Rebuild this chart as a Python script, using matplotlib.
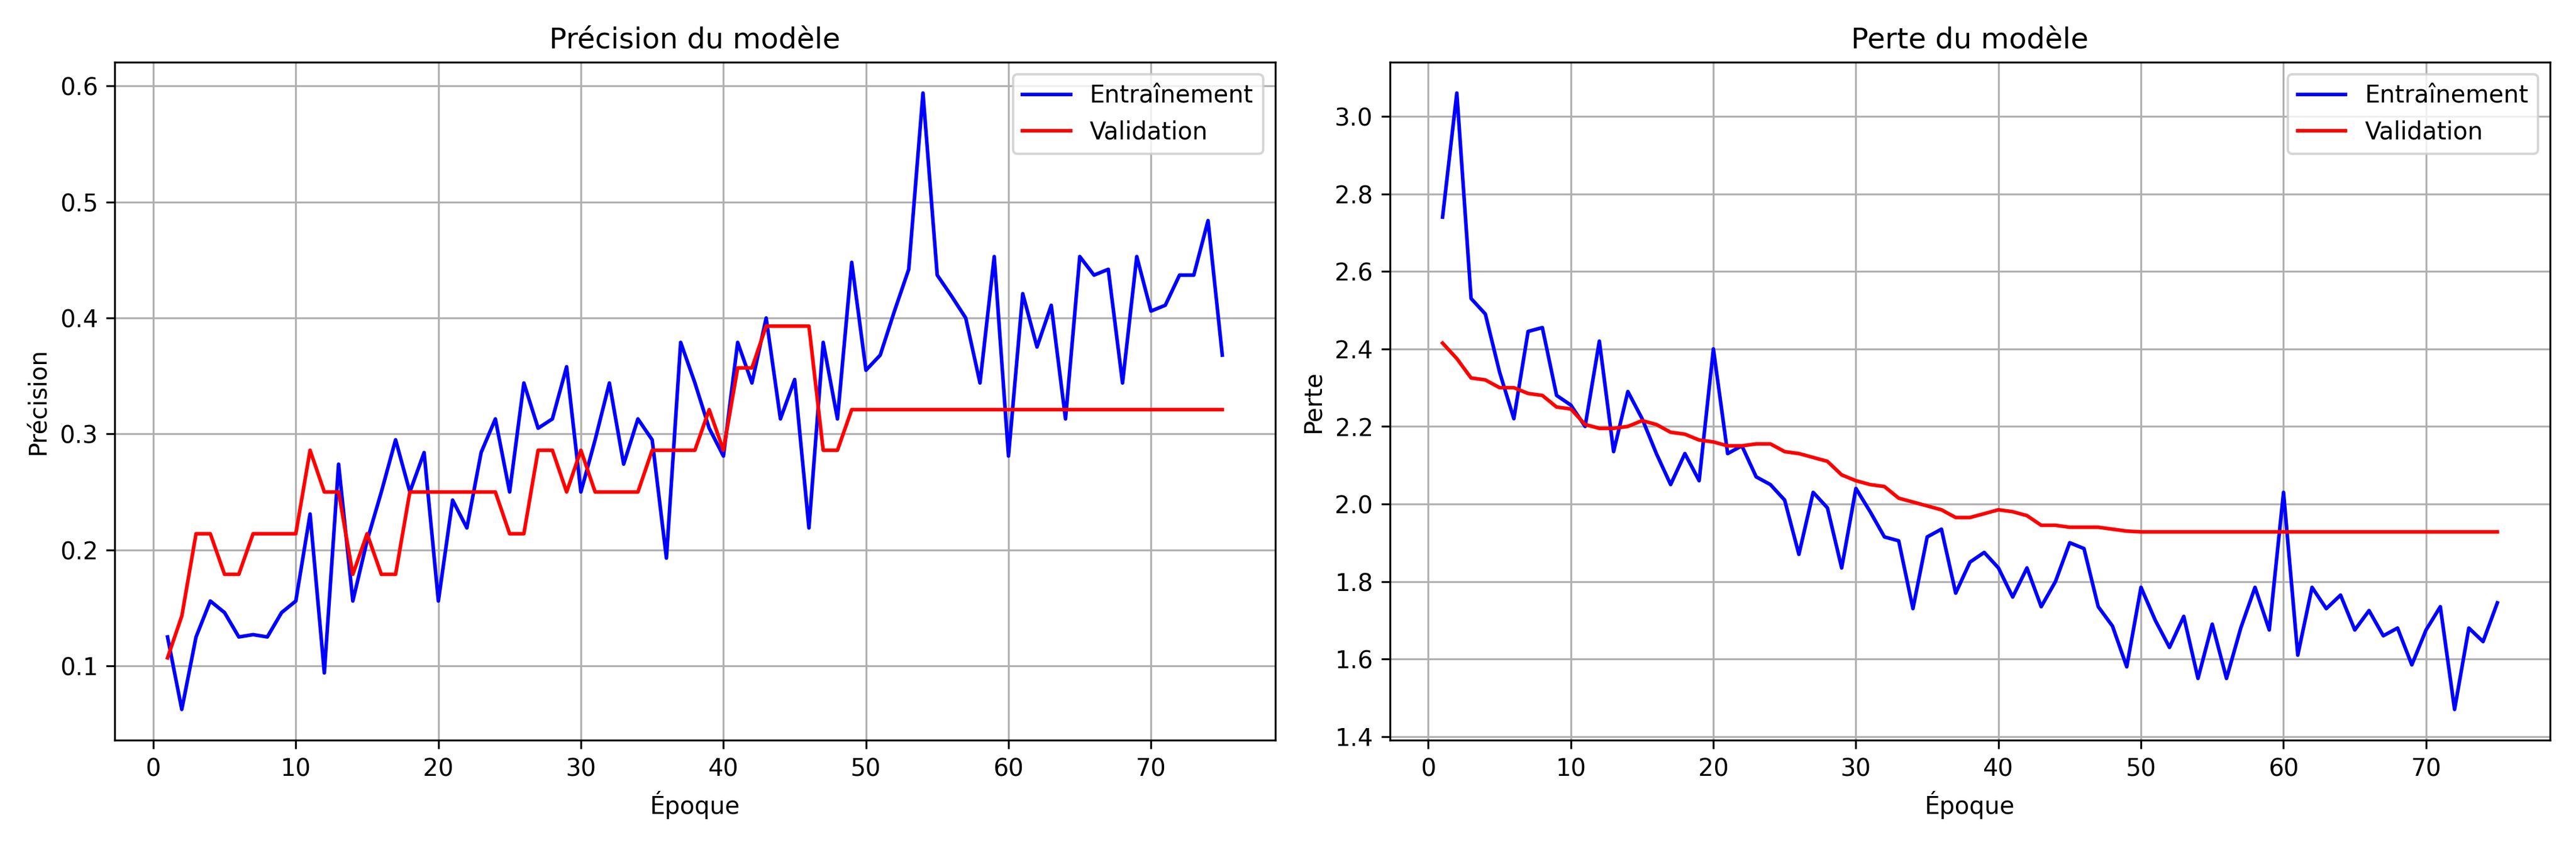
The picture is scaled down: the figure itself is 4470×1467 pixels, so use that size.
import numpy as np
import matplotlib.pyplot as plt

epochs = np.arange(1, 76)

acc_train = [0.125, 0.0625, 0.125, 0.156, 0.146, 0.125, 0.127, 0.125, 0.146, 0.156,
             0.231, 0.094, 0.274, 0.156, 0.208, 0.25, 0.295, 0.25, 0.284, 0.156,
             0.243, 0.219, 0.284, 0.313, 0.25, 0.344, 0.305, 0.313, 0.358, 0.25,
             0.295, 0.344, 0.274, 0.313, 0.295, 0.193, 0.379, 0.344, 0.305, 0.281,
             0.379, 0.344, 0.40, 0.313, 0.347, 0.219, 0.379, 0.313, 0.448, 0.355,
             0.368, 0.406, 0.442, 0.594, 0.437, 0.419, 0.40, 0.344, 0.453, 0.281,
             0.421, 0.375, 0.411, 0.313, 0.453, 0.437, 0.442, 0.344, 0.453, 0.406,
             0.411, 0.437, 0.437, 0.484, 0.368]
acc_val = [0.107, 0.143, 0.214, 0.214, 0.179, 0.179, 0.214, 0.214, 0.214, 0.214,
           0.286, 0.25, 0.25, 0.179, 0.214, 0.179, 0.179, 0.25, 0.25, 0.25,
           0.25, 0.25, 0.25, 0.25, 0.214, 0.214, 0.286, 0.286, 0.25, 0.286,
           0.25, 0.25, 0.25, 0.25, 0.286, 0.286, 0.286, 0.286, 0.321, 0.286,
           0.357, 0.357, 0.393, 0.393, 0.393, 0.393, 0.286, 0.286] + [0.321] * 27

loss_train = [2.74, 3.06, 2.53, 2.49, 2.34, 2.22, 2.445, 2.455, 2.28, 2.255,
              2.20, 2.42, 2.135, 2.29, 2.22, 2.13, 2.05, 2.13, 2.06, 2.40,
              2.13, 2.15, 2.07, 2.05, 2.01, 1.87, 2.03, 1.99, 1.835, 2.04,
              1.98, 1.915, 1.905, 1.73, 1.915, 1.935, 1.77, 1.85, 1.875, 1.835,
              1.76, 1.835, 1.735, 1.80, 1.90, 1.885, 1.735, 1.685, 1.58, 1.785,
              1.70, 1.63, 1.71, 1.55, 1.69, 1.55, 1.68, 1.785, 1.675, 2.03,
              1.61, 1.785, 1.73, 1.765, 1.675, 1.725, 1.66, 1.68, 1.585, 1.675,
              1.735, 1.47, 1.68, 1.645, 1.745]
loss_val = [2.415, 2.375, 2.325, 2.32, 2.30, 2.30, 2.285, 2.28, 2.25, 2.245,
            2.205, 2.195, 2.195, 2.20, 2.215, 2.205, 2.185, 2.18, 2.165, 2.16,
            2.15, 2.15, 2.155, 2.155, 2.135, 2.13, 2.12, 2.11, 2.075, 2.06,
            2.05, 2.045, 2.015, 2.005, 1.995, 1.985, 1.965, 1.965, 1.975, 1.985,
            1.98, 1.97, 1.945, 1.945, 1.94, 1.94, 1.94, 1.935, 1.93] + [1.928] * 26

fig, (ax1, ax2) = plt.subplots(1, 2, figsize=(14.9, 4.89), dpi=300)

ax1.plot(epochs, acc_train, color='blue', label='Entraînement')
ax1.plot(epochs, acc_val, color='red', label='Validation')
ax1.set_title('Précision du modèle')
ax1.set_xlabel('Époque')
ax1.set_ylabel('Précision')
ax1.legend(loc='upper right')
ax1.grid(True)

ax2.plot(epochs, loss_train, color='blue', label='Entraînement')
ax2.plot(epochs, loss_val, color='red', label='Validation')
ax2.set_title('Perte du modèle')
ax2.set_xlabel('Époque')
ax2.set_ylabel('Perte')
ax2.legend(loc='upper right')
ax2.grid(True)

plt.tight_layout()
plt.savefig('out.png', dpi=300)
